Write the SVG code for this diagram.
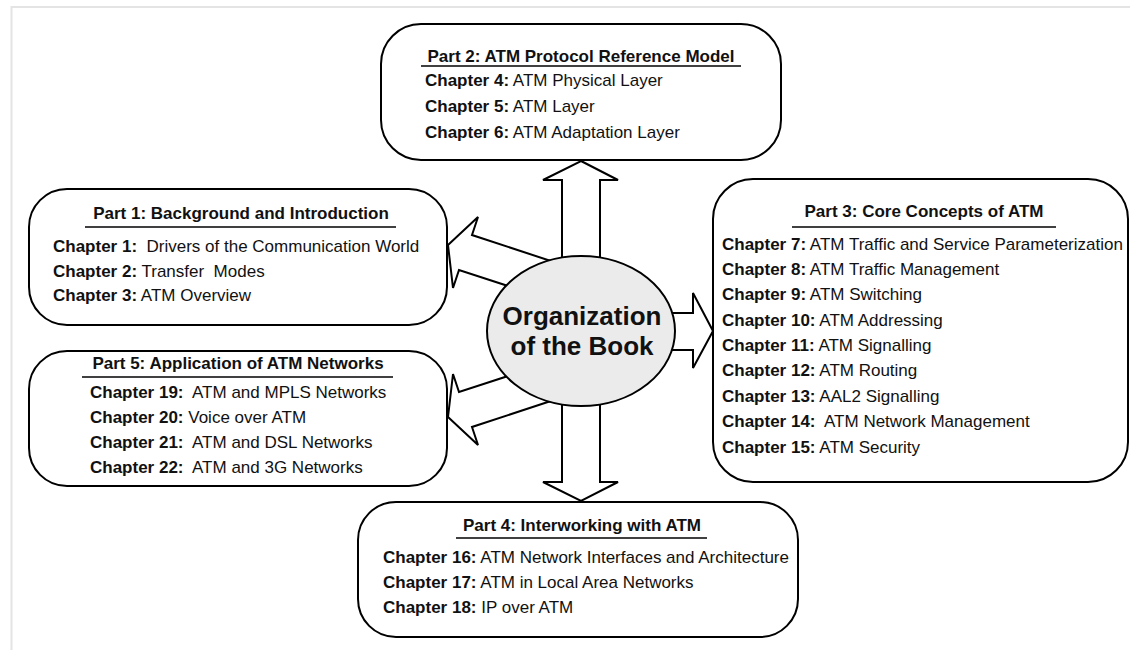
<svg xmlns="http://www.w3.org/2000/svg" width="1130" height="650" viewBox="0 0 1130 650">
<style>
.box{fill:#fff;stroke:#000;stroke-width:2}
.arr{fill:#fff;stroke:#000;stroke-width:2;stroke-linejoin:miter}
.t{font-family:"Liberation Sans",Arial,sans-serif;font-size:17px;fill:#111;white-space:pre}
.b{font-weight:bold}
.ttl{font-family:"Liberation Sans",Arial,sans-serif;font-size:17px;font-weight:bold;fill:#111;text-anchor:middle}
.ul{stroke:#000;stroke-width:1.6}
.frame{stroke:#e4e4e4;stroke-width:2;fill:none}
.big{font-family:"Liberation Sans",Arial,sans-serif;font-size:26px;font-weight:bold;fill:#111;text-anchor:middle}
</style>
<rect width="1130" height="650" fill="#fff"/>
<path class="frame" d="M11.5 650 V7 H1130"/>

<g id="part2">
<rect class="box" x="381" y="24" width="400" height="136" rx="40" ry="40"/>
<text class="ttl" x="581" y="62">Part 2: ATM Protocol Reference Model</text>
<line class="ul" x1="421" y1="66" x2="741" y2="66"/>
<text class="t" x="425" y="86"><tspan class="b">Chapter 4:</tspan> ATM Physical Layer</text>
<text class="t" x="425" y="112"><tspan class="b">Chapter 5:</tspan> ATM Layer</text>
<text class="t" x="425" y="138"><tspan class="b">Chapter 6:</tspan> ATM Adaptation Layer</text>
</g>

<g id="part1">
<rect class="box" x="29" y="189" width="418" height="136" rx="38" ry="38"/>
<text class="ttl" x="241" y="219">Part 1: Background and Introduction</text>
<line class="ul" x1="85" y1="227" x2="396" y2="227"/>
<text class="t" x="53" y="252"><tspan class="b">Chapter 1:</tspan>  Drivers of the Communication World</text>
<text class="t" x="53" y="277"><tspan class="b">Chapter 2:</tspan> Transfer  Modes</text>
<text class="t" x="53" y="301"><tspan class="b">Chapter 3:</tspan> ATM Overview</text>
</g>

<g id="part5">
<rect class="box" x="29" y="351" width="418" height="135" rx="38" ry="38"/>
<text class="ttl" x="238" y="369">Part 5: Application of ATM Networks</text>
<line class="ul" x1="82" y1="377" x2="393" y2="377"/>
<text class="t" x="90" y="398"><tspan class="b">Chapter 19:</tspan>  ATM and MPLS Networks</text>
<text class="t" x="90" y="423"><tspan class="b">Chapter 20:</tspan> Voice over ATM</text>
<text class="t" x="90" y="448"><tspan class="b">Chapter 21:</tspan>  ATM and DSL Networks</text>
<text class="t" x="90" y="473"><tspan class="b">Chapter 22:</tspan>  ATM and 3G Networks</text>
</g>

<g id="part3">
<rect class="box" x="713" y="179" width="415" height="303" rx="40" ry="40"/>
<text class="ttl" x="924" y="217">Part 3: Core Concepts of ATM</text>
<line class="ul" x1="792" y1="227" x2="1056" y2="227"/>
<text class="t" x="722" y="250"><tspan class="b">Chapter 7:</tspan> ATM Traffic and Service Parameterization</text>
<text class="t" x="722" y="275"><tspan class="b">Chapter 8:</tspan> ATM Traffic Management</text>
<text class="t" x="722" y="300"><tspan class="b">Chapter 9:</tspan> ATM Switching</text>
<text class="t" x="722" y="326"><tspan class="b">Chapter 10:</tspan> ATM Addressing</text>
<text class="t" x="722" y="351"><tspan class="b">Chapter 11:</tspan> ATM Signalling</text>
<text class="t" x="722" y="376"><tspan class="b">Chapter 12:</tspan> ATM Routing</text>
<text class="t" x="722" y="402"><tspan class="b">Chapter 13:</tspan> AAL2 Signalling</text>
<text class="t" x="722" y="427"><tspan class="b">Chapter 14:</tspan>  ATM Network Management</text>
<text class="t" x="722" y="453"><tspan class="b">Chapter 15:</tspan> ATM Security</text>
</g>

<g id="part4">
<rect class="box" x="358" y="502" width="440" height="135" rx="38" ry="38"/>
<text class="ttl" x="582" y="531">Part 4: Interworking with ATM</text>
<line class="ul" x1="456" y1="538" x2="707" y2="538"/>
<text class="t" x="383" y="563"><tspan class="b">Chapter 16:</tspan> ATM Network Interfaces and Architecture</text>
<text class="t" x="383" y="588"><tspan class="b">Chapter 17:</tspan> ATM in Local Area Networks</text>
<text class="t" x="383" y="613"><tspan class="b">Chapter 18:</tspan> IP over ATM</text>
</g>

<g id="connectors">
<polygon class="arr" points="581,161 618,180 600,180 600,482 618,482 581,501 543,482 562,482 562,180 543,180"/>
<polygon class="arr" points="713,331 693,368 693,350 600,350 600,313 693,313 693,293"/>
<polygon class="arr" points="448,245 478,217 472,235 560,264 560,303 459,270 453,288"/>
<polygon class="arr" points="448,417 478,445 472,427 560,398 560,359 459,392 453,374"/>
</g>

<g id="center">
<ellipse cx="581" cy="331" rx="94" ry="75" fill="#ebebeb" stroke="#000" stroke-width="2"/>
<text class="big" x="582" y="325">Organization</text>
<text class="big" x="582" y="355">of the Book</text>
</g>
</svg>
